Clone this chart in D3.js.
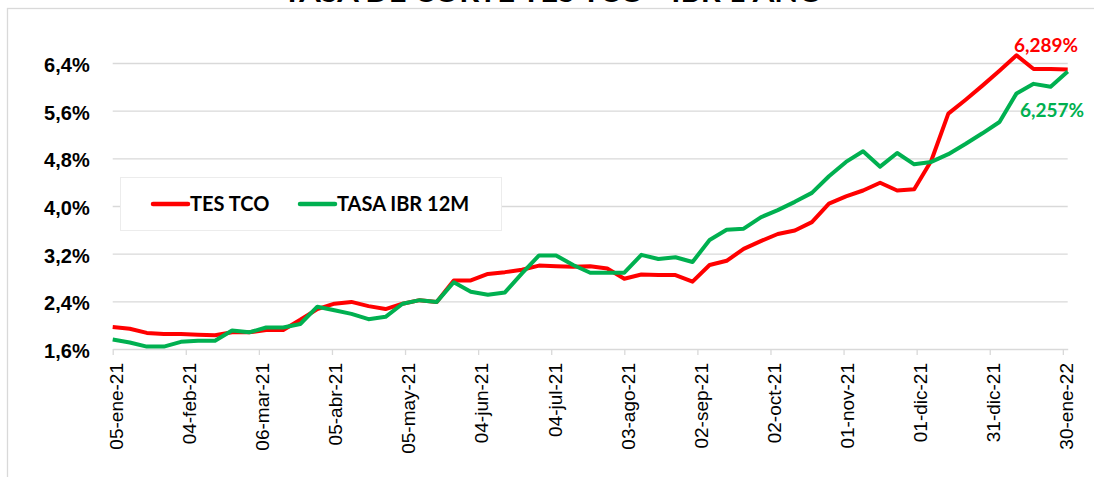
<!DOCTYPE html>
<meta charset="utf-8">
<style>
body { margin: 0; background: #fff; }
svg { font-family: Lato, "Open Sans", sans-serif; }
.grid line { stroke: #d9d9d9; stroke-width: 1.3px; }
.grid .domain { display: none; }
.xaxis .domain, .xaxis line { stroke: #d9d9d9; stroke-width: 1.3px; }
.xaxis text { font-size: 19px; fill: #000; }
.yaxis text { font-size: 20px; font-weight: bold; fill: #000; }
.yaxis .domain, .yaxis line { display: none; }
</style>
<svg width="1094" height="477"></svg>
<script src="https://d3js.org/d3.v7.min.js"></script>
<script>
// weekly observations
var dates = [
  "2021-01-05","2021-01-12","2021-01-19","2021-01-26",
  "2021-02-02","2021-02-09","2021-02-16","2021-02-23",
  "2021-03-02","2021-03-09","2021-03-16","2021-03-23","2021-03-30",
  "2021-04-06","2021-04-13","2021-04-20","2021-04-27",
  "2021-05-04","2021-05-11","2021-05-18","2021-05-25",
  "2021-06-01","2021-06-08","2021-06-15","2021-06-22","2021-06-29",
  "2021-07-06","2021-07-13","2021-07-20","2021-07-27",
  "2021-08-03","2021-08-10","2021-08-17","2021-08-24","2021-08-31",
  "2021-09-07","2021-09-14","2021-09-21","2021-09-28",
  "2021-10-05","2021-10-12","2021-10-19","2021-10-26",
  "2021-11-02","2021-11-09","2021-11-16","2021-11-23","2021-11-30",
  "2021-12-07","2021-12-14","2021-12-21","2021-12-28",
  "2022-01-04","2022-01-11","2022-01-18","2022-01-25",
  "2022-02-01"
];

var tesTco = [
  1.97, 1.94, 1.87, 1.85, 1.85, 1.84, 1.83, 1.88, 1.88, 1.92,
  1.92, 2.09, 2.27, 2.36, 2.39, 2.32, 2.27, 2.36, 2.42, 2.39,
  2.75, 2.75, 2.86, 2.89, 2.93, 3.00, 2.99, 2.98, 2.99, 2.95,
  2.78, 2.85, 2.84, 2.84, 2.73, 3.01, 3.08, 3.28, 3.41, 3.53,
  3.59, 3.73, 4.04, 4.16, 4.26, 4.39, 4.26, 4.28, 4.76, 5.55,
  5.78, 6.02, 6.27, 6.53, 6.30, 6.30, 6.289
];

var ibr12m = [
  1.76, 1.71, 1.64, 1.64, 1.72, 1.74, 1.74, 1.91, 1.88, 1.96,
  1.96, 2.02, 2.31, 2.25, 2.19, 2.10, 2.14, 2.36, 2.42, 2.39,
  2.72, 2.56, 2.51, 2.55, 2.87, 3.17, 3.17, 3.01, 2.88, 2.88,
  2.88, 3.18, 3.11, 3.14, 3.06, 3.43, 3.60, 3.62, 3.81, 3.93,
  4.07, 4.22, 4.50, 4.74, 4.92, 4.66, 4.89, 4.70, 4.74, 4.87,
  5.04, 5.22, 5.41, 5.89, 6.05, 6.00, 6.257
];

var tickDates = [
  "2021-01-05","2021-02-04","2021-03-06","2021-04-05","2021-05-05",
  "2021-06-04","2021-07-04","2021-08-03","2021-09-02","2021-10-02",
  "2021-11-01","2021-12-01","2021-12-31","2022-01-30"
];
var tickLabels = [
  "05-ene-21","04-feb-21","06-mar-21","05-abr-21","05-may-21",
  "04-jun-21","04-jul-21","03-ago-21","02-sep-21","02-oct-21",
  "01-nov-21","01-dic-21","31-dic-21","30-ene-22"
];
var yTicks = [1.6, 2.4, 3.2, 4.0, 4.8, 5.6, 6.4];

var series = [
  { name: "TES TCO", values: tesTco, color: "#ff0000" },
  { name: "TASA IBR 12M", values: ibr12m, color: "#00b050" }
];

var parse = d3.utcParse("%Y-%m-%d");
var svg = d3.select("svg");

// plot area edges
var pLeft = 112.7, pRight = 1067.7, pTop = 63, pBottom = 349;

var x = d3.scaleUtc()
    .domain([parse(dates[0]), parse(dates[dates.length - 1])])
    .range([pLeft, pRight]);
var y = d3.scaleLinear()
    .domain([1.6, 6.4])
    .range([pBottom, pTop]);

var es = d3.formatLocale({ decimal: ",", thousands: ".", grouping: [3], currency: ["$", ""] });
var fmt1 = es.format(".1f"), fmt3 = es.format(".3f");

// chart frame
svg.append("rect")
    .attr("x", 7.5).attr("y", 8.5)
    .attr("width", 1200).attr("height", 600)
    .attr("fill", "#fff")
    .attr("stroke", "#d9d9d9")
    .attr("stroke-width", 1.3);

// title (cut off at the top in the original)
svg.append("text")
    .attr("x", 553).attr("y", 1.5)
    .attr("text-anchor", "middle")
    .style("font-size", "31px")
    .style("font-weight", "bold")
    .text("TASA DE CORTE TES TCO - IBR 1 AÑO");

// gridlines
svg.append("g")
    .attr("class", "grid")
    .attr("transform", "translate(" + pLeft + ",0)")
    .call(d3.axisLeft(y).tickValues(yTicks.slice(1)).tickSize(-(pRight - pLeft)).tickFormat(""));

// y labels
var yAxis = svg.append("g")
    .attr("class", "yaxis")
    .attr("transform", "translate(" + pLeft + ",0)")
    .call(d3.axisLeft(y).tickValues(yTicks).tickSize(0).tickPadding(23)
      .tickFormat(function(d) { return fmt1(d) + "%"; }));
yAxis.selectAll("text").attr("dy", "0.42em");

// x axis
var xAxis = svg.append("g")
    .attr("class", "xaxis")
    .attr("transform", "translate(0," + pBottom + ")")
    .call(d3.axisBottom(x)
      .tickValues(tickDates.map(parse))
      .tickSize(6)
      .tickSizeOuter(0)
      .tickFormat(function(d, i) { return tickLabels[i]; }));
xAxis.selectAll("text")
    .attr("transform", "rotate(-90)")
    .attr("text-anchor", "end")
    .attr("x", -14)
    .attr("y", 3)
    .attr("dy", "0.36em");

// lines
var line = d3.line()
    .x(function(d, i) { return x(parse(dates[i])); })
    .y(function(d) { return y(d); });

svg.selectAll(".series")
  .data(series)
  .enter().append("path")
    .attr("class", "series")
    .attr("fill", "none")
    .attr("stroke", function(d) { return d.color; })
    .attr("stroke-width", 4)
    .attr("stroke-linejoin", "round")
    .attr("d", function(d) { return line(d.values); });

// end labels
svg.append("text")
    .attr("x", 1046).attr("y", 52)
    .attr("text-anchor", "middle")
    .attr("fill", "#ff0000")
    .style("font-size", "19px").style("font-weight", "bold")
    .text(fmt3(tesTco[tesTco.length - 1]) + "%");
svg.append("text")
    .attr("x", 1052).attr("y", 117)
    .attr("text-anchor", "middle")
    .attr("fill", "#00b050")
    .style("font-size", "19px").style("font-weight", "bold")
    .text(fmt3(ibr12m[ibr12m.length - 1]) + "%");

// legend
var legend = svg.append("g");
legend.append("rect")
    .attr("x", 120.5).attr("y", 177.5)
    .attr("width", 381).attr("height", 53)
    .attr("fill", "#fff")
    .attr("stroke", "#ececec");
var items = legend.selectAll(".item")
  .data(series)
  .enter().append("g")
    .attr("transform", function(d, i) { return "translate(" + [153, 300][i] + ",204)"; });
items.append("line")
    .attr("x1", 0).attr("x2", 35)
    .attr("stroke", function(d) { return d.color; })
    .attr("stroke-width", 4.5)
    .attr("stroke-linecap", "round");
items.append("text")
    .attr("x", 37).attr("dy", "0.36em")
    .style("font-size", "20px").style("font-weight", "bold")
    .text(function(d) { return d.name; });
</script>
